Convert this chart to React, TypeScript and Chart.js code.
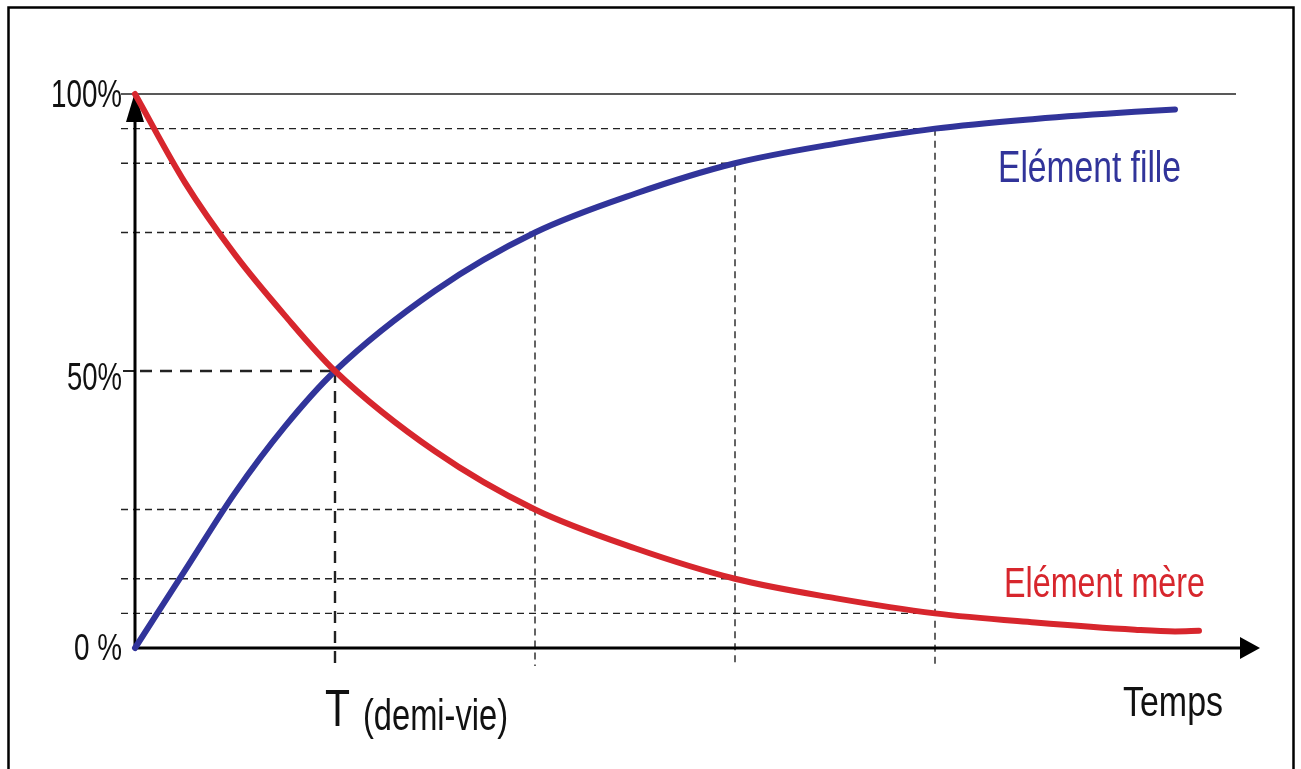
import React, { useEffect, useRef } from "react";
import { Chart, registerables } from "chart.js";

Chart.register(...registerables);

// Time in half-lives (T)
const motherTimes = [0, 0.25, 0.5, 0.75, 1, 1.5, 2, 2.5, 3, 3.5, 4, 4.5, 5, 5.2, 5.32];
const motherValues = [100, 84, 71, 60, 50, 35.5, 25, 18, 12.5, 9, 6.25, 4.6, 3.3, 3.0, 3.1];
const daughterTimes = [0, 0.25, 0.5, 0.75, 1, 1.5, 2, 2.5, 3, 3.5, 4, 4.5, 5, 5.2];
const daughterValues = [0, 14, 28, 40, 50, 64.5, 75, 82, 87.5, 91, 93.75, 95.5, 96.8, 97.2];
const halfLifeMarks = [1, 2, 3, 4];
const motherLevels = [50, 25, 12.5, 6.25];
const daughterLevels = [50, 75, 87.5, 93.75];
const yTickLabels = ["100%", "50%", "0 %"];
const yTickValues = [100, 50, 0];
const seriesNames = ["Elément mère", "Elément fille"];
const xAxisTitle = "Temps";
const halfLifeLabel = ["T", "(demi-vie)"];

const RED = "#d7262d";
const BLUE = "#31349a";
const FONT = "'Liberation Sans', Arial, sans-serif";

function txt(ctx: any, s: string, x: number, y: number, size: number, w: number, align: string = "left") {
  ctx.font = `${size}px ${FONT}`;
  ctx.textAlign = align;
  ctx.textBaseline = "alphabetic";
  ctx.fillText(s, x, y, w);
}

const decorPlugin = {
  id: "decor",
  beforeDatasetsDraw(chart: any) {
    const { ctx } = chart;
    const xs = chart.scales.x;
    const ys = chart.scales.y;
    const x0 = xs.getPixelForValue(0);
    const y0 = ys.getPixelForValue(0);
    const y100 = ys.getPixelForValue(100);
    ctx.save();
    // frame
    ctx.strokeStyle = "#000";
    ctx.lineWidth = 2.5;
    ctx.strokeRect(8.5, 7.5, 1285, 800);
    // top 100% line
    ctx.lineWidth = 1.5;
    ctx.strokeStyle = "#222";
    ctx.beginPath();
    ctx.moveTo(121, y100);
    ctx.lineTo(1236, y100);
    ctx.stroke();
    // dashed guide lines
    ctx.strokeStyle = "#222";
    ctx.lineWidth = 1.4;
    ctx.setLineDash([7, 5]);
    halfLifeMarks.forEach((m, i) => {
      const px = xs.getPixelForValue(m);
      const levels = [motherLevels[i], daughterLevels[i]];
      levels.forEach((lv) => {
        if (lv === 50) return;
        const py = ys.getPixelForValue(lv);
        ctx.beginPath();
        ctx.moveTo(121, py);
        ctx.lineTo(px, py);
        ctx.stroke();
      });
      if (m !== 1) {
        const pyTop = ys.getPixelForValue(daughterLevels[i]);
        ctx.beginPath();
        ctx.moveTo(px, pyTop);
        ctx.lineTo(px, y0 + 18);
        ctx.stroke();
      }
    });
    // half-life (50%) thicker dashes
    ctx.lineWidth = 2.4;
    ctx.setLineDash([12, 8]);
    const pxT = xs.getPixelForValue(halfLifeMarks[0]);
    const py50 = ys.getPixelForValue(50);
    ctx.beginPath();
    ctx.moveTo(x0 + 5, py50);
    ctx.lineTo(pxT, py50);
    ctx.stroke();
    ctx.beginPath();
    ctx.moveTo(pxT, py50);
    ctx.lineTo(pxT, y0 + 20);
    ctx.stroke();
    ctx.setLineDash([]);
    // tick at 50%
    ctx.lineWidth = 2;
    ctx.beginPath();
    ctx.moveTo(123, py50);
    ctx.lineTo(x0, py50);
    ctx.stroke();
    // axes
    ctx.strokeStyle = "#000";
    ctx.lineWidth = 3;
    ctx.beginPath();
    ctx.moveTo(x0, y0);
    ctx.lineTo(x0, y100 + 20);
    ctx.stroke();
    ctx.beginPath();
    ctx.moveTo(x0, y0);
    ctx.lineTo(1245, y0);
    ctx.stroke();
    ctx.fillStyle = "#000";
    ctx.beginPath();
    ctx.moveTo(x0, y100 - 2);
    ctx.lineTo(x0 - 9, y100 + 28);
    ctx.lineTo(x0 + 9, y100 + 28);
    ctx.closePath();
    ctx.fill();
    ctx.beginPath();
    ctx.moveTo(1260, y0);
    ctx.lineTo(1240, y0 - 11);
    ctx.lineTo(1240, y0 + 11);
    ctx.closePath();
    ctx.fill();
    // y labels
    ctx.fillStyle = "#111";
    const yBase = [13, 19, 12];
    const yW = [71, 55, 48];
    const ySize = [38, 38, 36];
    yTickLabels.forEach((t, i) => {
      const py = ys.getPixelForValue(yTickValues[i]);
      txt(ctx, t, 122, py + yBase[i], ySize[i], yW[i], "right");
    });
    // half-life label
    txt(ctx, halfLifeLabel[0], pxT - 10, 726, 52, 25);
    txt(ctx, halfLifeLabel[1], 363, 730, 44, 145);
    // x title
    txt(ctx, xAxisTitle, 1123, 716, 43, 100);
    // series labels
    ctx.fillStyle = BLUE;
    txt(ctx, seriesNames[1], 998, 182, 45, 183);
    ctx.fillStyle = RED;
    txt(ctx, seriesNames[0], 1004, 597, 42, 201);
    ctx.restore();
  },
};

export default function App() {
  const ref = useRef<HTMLCanvasElement>(null);
  useEffect(() => {
    document.body.style.margin = "0";
    const chart = new Chart(ref.current!, {
      type: "line",
      data: {
        datasets: [
          {
            label: seriesNames[0],
            data: motherTimes.map((t, i) => ({ x: t, y: motherValues[i] })),
            borderColor: RED,
            borderWidth: 6,
            pointRadius: 0,
            cubicInterpolationMode: "monotone",
            borderCapStyle: "round",
          },
          {
            label: seriesNames[1],
            data: daughterTimes.map((t, i) => ({ x: t, y: daughterValues[i] })),
            borderColor: BLUE,
            borderWidth: 6,
            pointRadius: 0,
            cubicInterpolationMode: "monotone",
            borderCapStyle: "round",
          },
        ],
      },
      options: {
        responsive: false,
        animation: false,
        clip: false,
        layout: { padding: { left: 135, right: 46, top: 94, bottom: 121 } },
        plugins: { legend: { display: false }, tooltip: { enabled: false } },
        scales: {
          x: { type: "linear", min: 0, max: 5.6, display: false },
          y: { type: "linear", min: 0, max: 100, display: false },
        },
      } as any,
      plugins: [decorPlugin],
    });
    return () => chart.destroy();
  }, []);
  return (
    <div style={{ width: 1301, height: 769, background: "#fff" }}>
      <canvas ref={ref} width={1301} height={769} style={{ display: "block" }} />
    </div>
  );
}
